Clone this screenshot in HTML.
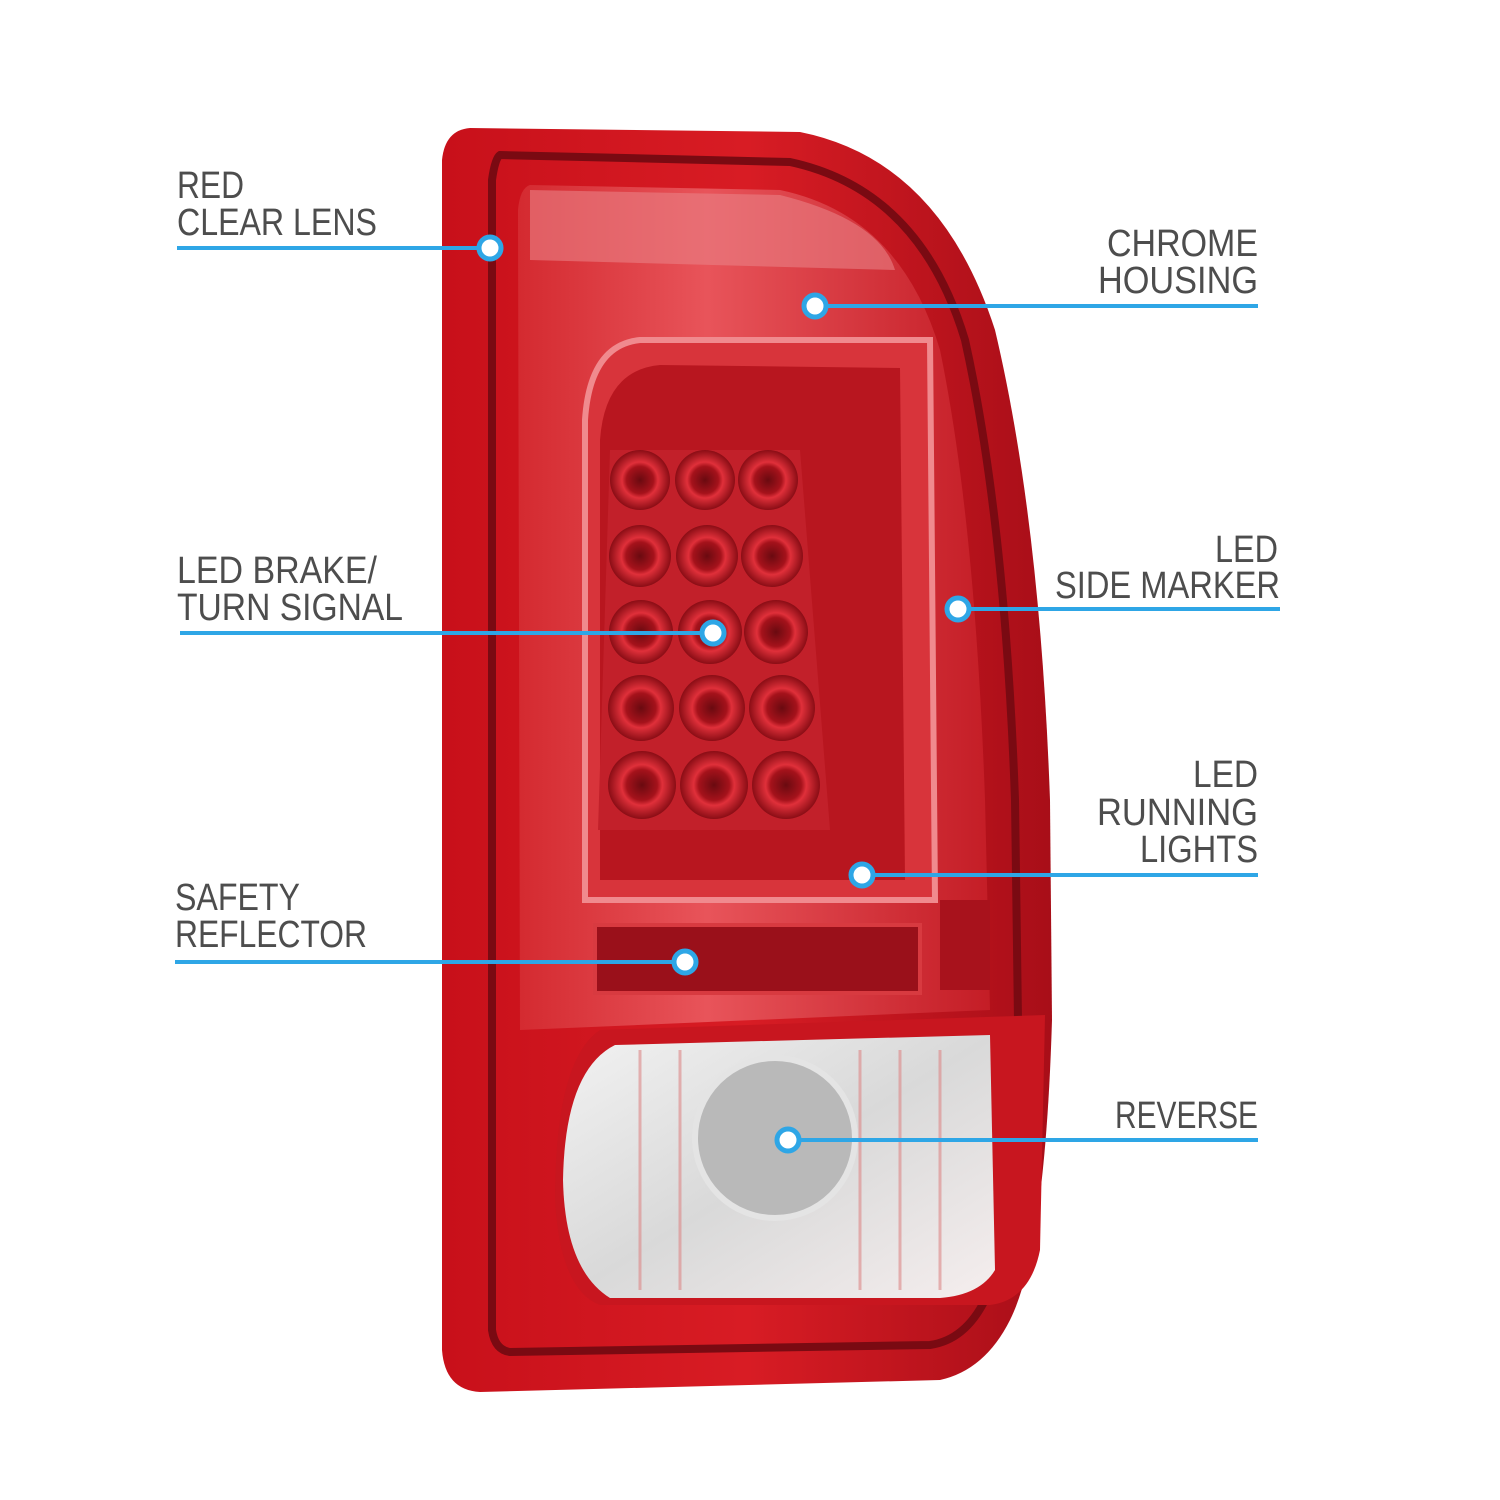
<!DOCTYPE html>
<html><head><meta charset="utf-8"><style>
html,body{margin:0;padding:0;background:#fff;width:1500px;height:1500px;overflow:hidden}
svg{display:block}
text{font-family:"Liberation Sans",sans-serif;font-size:38px;fill:#4d4d4d}
</style></head><body>
<svg width="1500" height="1500" viewBox="0 0 1500 1500" xmlns="http://www.w3.org/2000/svg">
<defs>
<linearGradient id="body" x1="0" x2="1" y1="0" y2="0">
<stop offset="0" stop-color="#c8101a"/><stop offset="0.5" stop-color="#d81c24"/><stop offset="1" stop-color="#a80e18"/>
</linearGradient>
<linearGradient id="lens" x1="0" x2="1" y1="0" y2="0">
<stop offset="0" stop-color="#d42a30"/><stop offset="0.4" stop-color="#e8545a"/><stop offset="1" stop-color="#c41d26"/>
</linearGradient>
<linearGradient id="rev" x1="0" x2="1" y1="0" y2="1">
<stop offset="0" stop-color="#f2f2f2"/><stop offset="0.5" stop-color="#d9d9d9"/><stop offset="1" stop-color="#f5eeee"/>
</linearGradient>
<radialGradient id="led"><stop offset="0" stop-color="#6a0a10"/><stop offset="0.45" stop-color="#a5121b"/><stop offset="0.6" stop-color="#e0303a"/><stop offset="1" stop-color="#8a0d15"/></radialGradient>
</defs>
<!-- outer body -->
<path d="M470 128 L800 132 Q940 160 995 330 Q1040 520 1050 800 L1052 1020 Q1045 1250 1010 1320 Q985 1370 940 1380 L480 1392 Q445 1390 442 1350 L442 160 Q445 130 470 128 Z" fill="url(#body)"/>
<path d="M500 155 L790 162 Q920 190 965 340 Q1005 520 1015 800 L1018 1020 Q1012 1240 985 1300 Q965 1340 930 1345 L510 1352 Q495 1350 492 1330 L492 180 Q495 158 500 155 Z" fill="none" stroke="#7a0a12" stroke-width="8"/>
<!-- lens area -->
<path d="M530 185 L780 190 Q900 215 940 350 Q975 520 985 800 L990 1010 L520 1030 L518 210 Q520 188 530 185 Z" fill="url(#lens)"/>
<path d="M530 190 L780 195 Q880 220 895 270 L530 260 Z" fill="#e98085" opacity="0.6"/>
<!-- LED housing -->
<path d="M640 340 L930 340 L935 900 L585 900 L585 420 Q590 345 640 340 Z" fill="#d8343b" stroke="#f08a8e" stroke-width="6"/>
<path d="M660 365 L900 368 L905 880 L600 880 L600 440 Q605 370 660 365 Z" fill="#b8161f"/>
<path d="M610 450 L800 450 L830 830 L598 830 Z" fill="#c2202a"/>
<g>
<circle cx="640" cy="480" r="30" fill="url(#led)"/><circle cx="705" cy="480" r="30" fill="url(#led)"/><circle cx="768" cy="480" r="30" fill="url(#led)"/>
<circle cx="640" cy="556" r="31" fill="url(#led)"/><circle cx="707" cy="556" r="31" fill="url(#led)"/><circle cx="772" cy="556" r="31" fill="url(#led)"/>
<circle cx="641" cy="632" r="32" fill="url(#led)"/><circle cx="710" cy="632" r="32" fill="url(#led)"/><circle cx="776" cy="632" r="32" fill="url(#led)"/>
<circle cx="641" cy="708" r="33" fill="url(#led)"/><circle cx="712" cy="708" r="33" fill="url(#led)"/><circle cx="782" cy="708" r="33" fill="url(#led)"/>
<circle cx="642" cy="785" r="34" fill="url(#led)"/><circle cx="714" cy="785" r="34" fill="url(#led)"/><circle cx="786" cy="785" r="34" fill="url(#led)"/>
</g>
<!-- reflector -->
<rect x="595" y="925" width="325" height="68" fill="#9a101a" stroke="#d83a40" stroke-width="4"/>
<rect x="940" y="900" width="50" height="90" fill="#a8121c"/>
<!-- reverse -->
<path d="M600 1030 L1045 1015 L1040 1250 Q1030 1300 990 1305 L600 1305 Q560 1290 555 1200 Q555 1060 600 1030 Z" fill="#c8161f"/>
<path d="M615 1045 L990 1035 L995 1270 Q980 1295 940 1298 L610 1298 Q565 1270 563 1180 Q565 1070 615 1045 Z" fill="url(#rev)"/>
<g stroke="#d88" stroke-width="3" opacity="0.6">
<line x1="640" y1="1050" x2="640" y2="1290"/><line x1="680" y1="1050" x2="680" y2="1290"/><line x1="860" y1="1050" x2="860" y2="1290"/><line x1="900" y1="1050" x2="900" y2="1290"/><line x1="940" y1="1050" x2="940" y2="1290"/>
</g>
<circle cx="775" cy="1138" r="80" fill="#b9b9b9" stroke="#e4e4e4" stroke-width="6"/>
<!-- callouts -->
<g stroke="#2ea6e6" stroke-width="4" fill="none">
<line x1="177" y1="248" x2="490" y2="248"/>
<line x1="815" y1="306" x2="1258" y2="306"/>
<line x1="958" y1="609" x2="1280" y2="609"/>
<line x1="180" y1="633" x2="713" y2="633"/>
<line x1="862" y1="875" x2="1258" y2="875"/>
<line x1="175" y1="962" x2="685" y2="962"/>
<line x1="788" y1="1140" x2="1258" y2="1140"/>
</g>
<g fill="#fff" stroke="#2ea6e6" stroke-width="5">
<circle cx="490" cy="248" r="11"/><circle cx="815" cy="306" r="11"/><circle cx="958" cy="609" r="11"/>
<circle cx="713" cy="633" r="11"/><circle cx="862" cy="875" r="11"/><circle cx="685" cy="962" r="11"/><circle cx="788" cy="1140" r="11"/>
</g>
<g lengthAdjust="spacingAndGlyphs">
<text x="177" y="198" textLength="67" lengthAdjust="spacingAndGlyphs">RED</text>
<text x="177" y="235" textLength="200" lengthAdjust="spacingAndGlyphs">CLEAR LENS</text>
<text x="1107" y="256" textLength="151" lengthAdjust="spacingAndGlyphs">CHROME</text>
<text x="1098" y="293" textLength="160" lengthAdjust="spacingAndGlyphs">HOUSING</text>
<text x="1215" y="562" textLength="63" lengthAdjust="spacingAndGlyphs">LED</text>
<text x="1055" y="598" textLength="225" lengthAdjust="spacingAndGlyphs">SIDE MARKER</text>
<text x="177" y="583" textLength="200" lengthAdjust="spacingAndGlyphs">LED BRAKE/</text>
<text x="177" y="620" textLength="226" lengthAdjust="spacingAndGlyphs">TURN SIGNAL</text>
<text x="1193" y="787" textLength="65" lengthAdjust="spacingAndGlyphs">LED</text>
<text x="1097" y="825" textLength="161" lengthAdjust="spacingAndGlyphs">RUNNING</text>
<text x="1140" y="862" textLength="118" lengthAdjust="spacingAndGlyphs">LIGHTS</text>
<text x="175" y="910" textLength="125" lengthAdjust="spacingAndGlyphs">SAFETY</text>
<text x="175" y="947" textLength="192" lengthAdjust="spacingAndGlyphs">REFLECTOR</text>
<text x="1115" y="1128" textLength="143" lengthAdjust="spacingAndGlyphs">REVERSE</text>
</g>
</svg>
</body></html>
